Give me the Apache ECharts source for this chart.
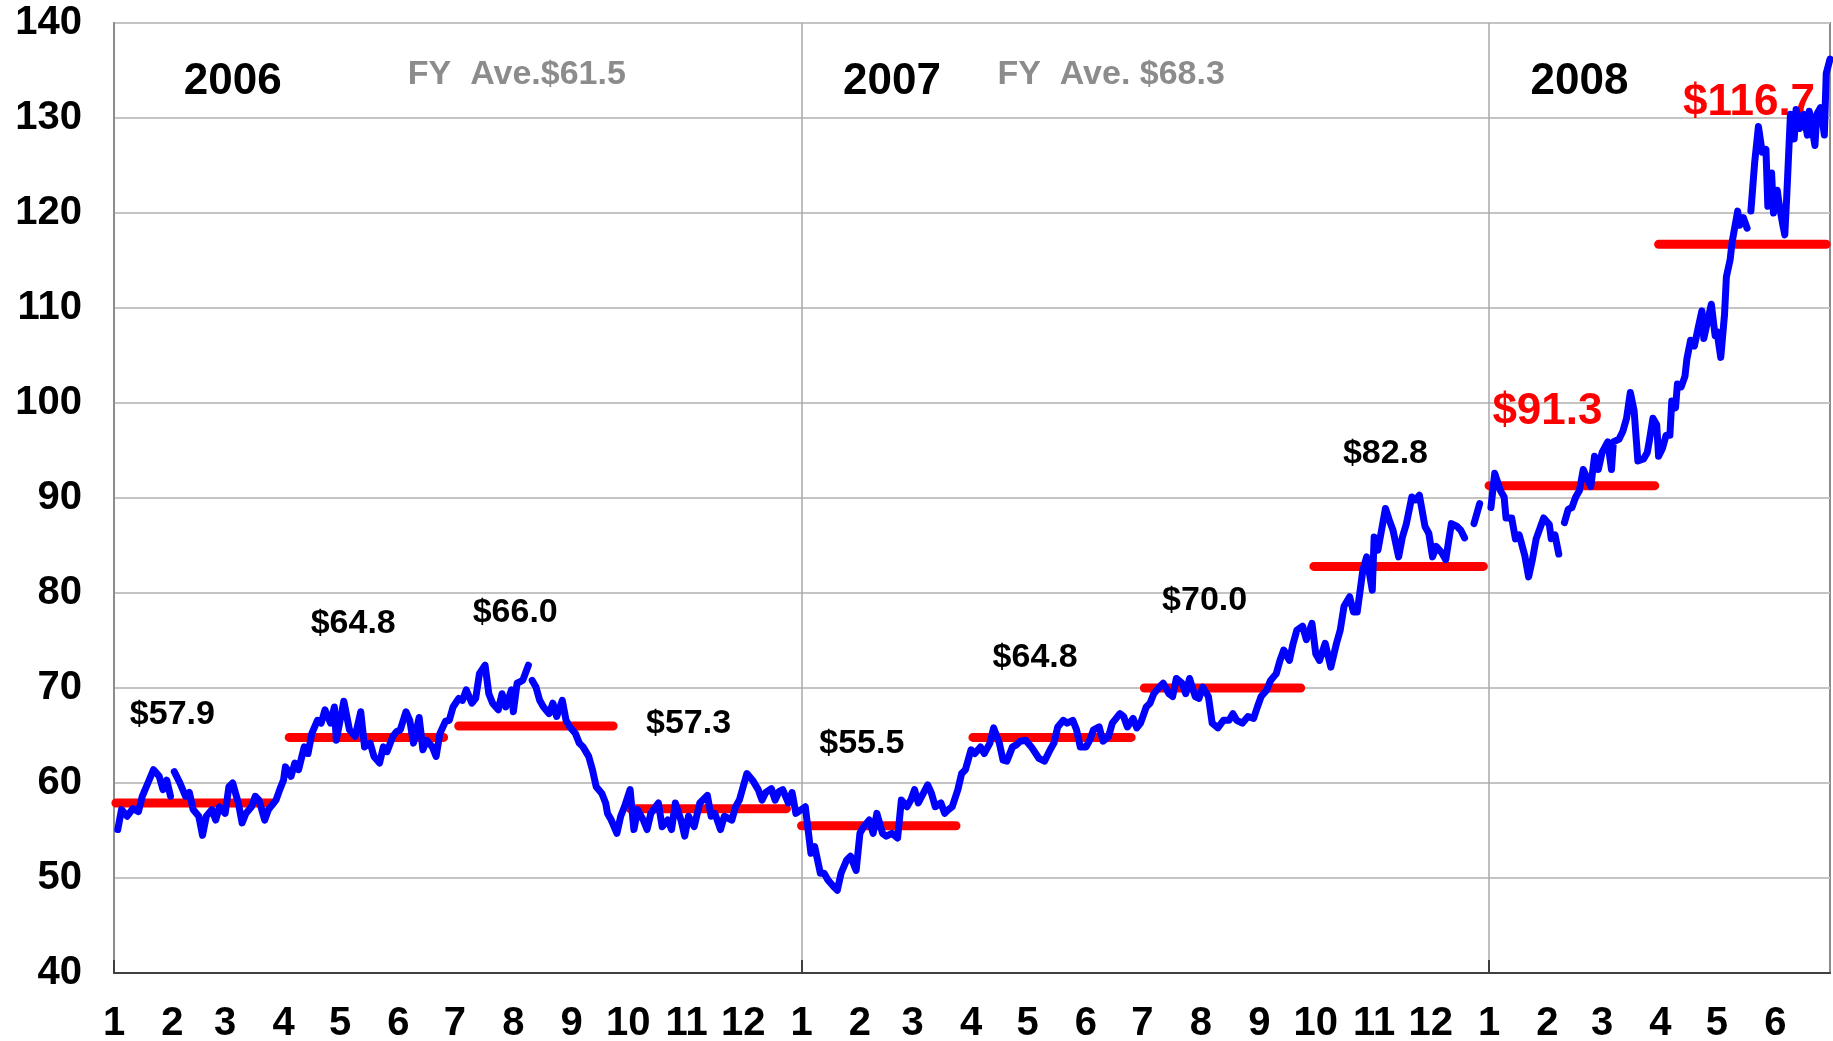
<!DOCTYPE html>
<html>
<head>
<meta charset="utf-8">
<title>Crude oil price 2006-2008</title>
<script src="https://cdn.jsdelivr.net/npm/echarts@6/dist/echarts.min.js"></script>
<style>
  html, body { margin: 0; padding: 0; background: #fff; }
  #chart { width: 1833px; height: 1041px; }
</style>
</head>
<body>
<div id="chart"></div>
<script>
// daily price ($/bbl), null = gap in the line
const prices2006 = [
  ['2006-01-03', 55.1], ['2006-01-05', 57.2], ['2006-01-08', 56.5], ['2006-01-11', 57.3],
  ['2006-01-14', 57.0], ['2006-01-16', 58.6], ['2006-01-19', 60.0], ['2006-01-22', 61.4],
  ['2006-01-25', 60.7], ['2006-01-27', 59.3], ['2006-01-29', 60.3], ['2006-01-31', 58.6],
  ['2006-02-01', null], ['2006-02-02', 61.2], ['2006-02-05', 60.0], ['2006-02-08', 58.6],
  ['2006-02-10', 59.0], ['2006-02-12', 57.2], ['2006-02-15', 56.5], ['2006-02-17', 54.5],
  ['2006-02-19', 56.5], ['2006-02-22', 57.2], ['2006-02-24', 56.1], ['2006-02-26', 57.5],
  ['2006-03-01', 56.8], ['2006-03-03', 59.6], ['2006-03-05', 60.0], ['2006-03-08', 57.9],
  ['2006-03-10', 55.8], ['2006-03-12', 56.8], ['2006-03-15', 57.5], ['2006-03-17', 58.6],
  ['2006-03-19', 58.2], ['2006-03-22', 56.1], ['2006-03-24', 57.2], ['2006-03-28', 58.2],
  ['2006-03-30', 59.3], ['2006-04-01', 60.3], ['2006-04-02', 61.7], ['2006-04-05', 60.7],
  ['2006-04-07', 62.1], ['2006-04-09', 61.4], ['2006-04-12', 63.8], ['2006-04-13', null],
  ['2006-04-14', 63.1], ['2006-04-16', 65.2], ['2006-04-19', 66.6], ['2006-04-21', 66.3],
  ['2006-04-23', 67.7], ['2006-04-26', 66.3], ['2006-04-28', 68.0], ['2006-04-29', 64.5],
  ['2006-05-03', 68.6], ['2006-05-06', 65.6], ['2006-05-09', 64.9], ['2006-05-12', 67.5],
  ['2006-05-14', 63.8], ['2006-05-17', 64.2], ['2006-05-19', 62.8], ['2006-05-22', 62.1],
  ['2006-05-24', 63.8], ['2006-05-26', 63.3], ['2006-05-29', 64.9], ['2006-05-31', 65.4],
  ['2006-06-02', 65.6], ['2006-06-05', 67.5], ['2006-06-07', 66.6], ['2006-06-09', 64.2],
  ['2006-06-12', 66.9], ['2006-06-14', 63.5], ['2006-06-16', 64.5], ['2006-06-19', 63.8],
  ['2006-06-21', 62.8], ['2006-06-23', 65.2], ['2006-06-26', 66.5], ['2006-06-28', 66.6],
  ['2006-06-30', 68.0], ['2006-07-03', 68.9], ['2006-07-05', 68.7], ['2006-07-07', 69.8],
  ['2006-07-10', 68.4], ['2006-07-12', 68.9], ['2006-07-14', 71.5], ['2006-07-17', 72.4],
  ['2006-07-19', 69.4], ['2006-07-21', 68.4], ['2006-07-24', 67.7], ['2006-07-26', 69.4],
  ['2006-07-28', 68.0], ['2006-07-31', 69.8], ['2006-08-01', 67.5], ['2006-08-03', 70.5],
  ['2006-08-06', 70.8], ['2006-08-09', 72.4], ['2006-08-10', null], ['2006-08-11', 70.8],
  ['2006-08-13', 70.1], ['2006-08-15', 68.7], ['2006-08-17', 68.0], ['2006-08-20', 67.3],
  ['2006-08-22', 68.4], ['2006-08-24', 67.0], ['2006-08-27', 68.7], ['2006-08-29', 66.6],
  ['2006-08-31', 65.9], ['2006-09-03', 65.2], ['2006-09-05', 64.2], ['2006-09-07', 63.8],
  ['2006-09-10', 62.8], ['2006-09-12', 61.4], ['2006-09-14', 59.6], ['2006-09-17', 58.9],
  ['2006-09-19', 57.9], ['2006-09-20', 56.8], ['2006-09-22', 56.1], ['2006-09-25', 54.7],
  ['2006-09-27', 56.5], ['2006-09-29', 57.5], ['2006-10-02', 59.3], ['2006-10-04', 55.1],
  ['2006-10-06', 57.2], ['2006-10-09', 56.1], ['2006-10-11', 55.1], ['2006-10-13', 56.8],
  ['2006-10-17', 57.9], ['2006-10-19', 55.4], ['2006-10-22', 56.1], ['2006-10-24', 55.1],
  ['2006-10-26', 57.9], ['2006-10-29', 56.1], ['2006-10-31', 54.4], ['2006-11-02', 56.5],
  ['2006-11-05', 55.4], ['2006-11-08', 57.9], ['2006-11-12', 58.7], ['2006-11-14', 56.5],
  ['2006-11-16', 56.8], ['2006-11-19', 55.1], ['2006-11-21', 56.5], ['2006-11-25', 56.1],
  ['2006-11-27', 57.5], ['2006-11-29', 58.2], ['2006-12-03', 61.0], ['2006-12-06', 60.3],
  ['2006-12-09', 59.3], ['2006-12-11', 58.2], ['2006-12-13', 59.0], ['2006-12-16', 59.4],
  ['2006-12-18', 58.2], ['2006-12-20', 59.1], ['2006-12-22', 59.3], ['2006-12-25', 57.9],
  ['2006-12-27', 59.0], ['2006-12-29', 56.8]
]

const prices2007 = [
  ['2007-01-03', 57.5], ['2007-01-06', 52.6], ['2007-01-08', 53.3], ['2007-01-11', 50.5],
  ['2007-01-13', 50.5], ['2007-01-15', 49.8], ['2007-01-18', 49.1], ['2007-01-20', 48.7],
  ['2007-01-22', 50.5], ['2007-01-25', 51.9], ['2007-01-27', 52.3], ['2007-01-30', 50.8],
  ['2007-02-01', 54.7], ['2007-02-03', 55.4], ['2007-02-06', 56.1], ['2007-02-08', 54.7],
  ['2007-02-10', 56.8], ['2007-02-13', 54.7], ['2007-02-15', 54.4], ['2007-02-18', 54.7],
  ['2007-02-21', 54.2], ['2007-02-23', 58.2], ['2007-02-26', 57.5], ['2007-02-28', 58.2],
  ['2007-03-02', 59.3], ['2007-03-04', 57.9], ['2007-03-09', 59.8], ['2007-03-11', 58.9],
  ['2007-03-13', 57.5], ['2007-03-16', 57.9], ['2007-03-18', 56.8], ['2007-03-20', 57.2],
  ['2007-03-22', 57.5], ['2007-03-25', 59.3], ['2007-03-27', 61.0], ['2007-03-29', 61.4],
  ['2007-04-01', 63.5], ['2007-04-03', 63.1], ['2007-04-06', 63.8], ['2007-04-08', 63.1],
  ['2007-04-11', 64.2], ['2007-04-13', 65.8], ['2007-04-16', 64.2], ['2007-04-18', 62.4],
  ['2007-04-20', 62.3], ['2007-04-23', 63.8], ['2007-04-25', 64.0], ['2007-04-27', 64.4],
  ['2007-04-30', 64.5], ['2007-05-03', 63.8], ['2007-05-07', 62.6], ['2007-05-10', 62.3],
  ['2007-05-13', 63.5], ['2007-05-15', 64.2], ['2007-05-17', 65.9], ['2007-05-20', 66.6],
  ['2007-05-22', 66.3], ['2007-05-25', 66.6], ['2007-05-27', 65.6], ['2007-05-29', 63.8],
  ['2007-06-01', 63.8], ['2007-06-03', 64.5], ['2007-06-05', 65.6], ['2007-06-08', 65.9],
  ['2007-06-10', 64.4], ['2007-06-13', 64.9], ['2007-06-15', 66.3], ['2007-06-19', 67.3],
  ['2007-06-21', 67.0], ['2007-06-23', 65.9], ['2007-06-26', 66.8], ['2007-06-28', 65.8],
  ['2007-06-30', 66.3], ['2007-07-03', 68.0], ['2007-07-05', 68.4], ['2007-07-07', 69.4],
  ['2007-07-10', 70.1], ['2007-07-12', 70.5], ['2007-07-15', 69.4], ['2007-07-17', 69.1],
  ['2007-07-19', 71.0], ['2007-07-22', 70.5], ['2007-07-24', 69.4], ['2007-07-26', 71.0],
  ['2007-07-29', 69.1], ['2007-07-31', 68.9], ['2007-08-02', 70.1], ['2007-08-05', 69.1],
  ['2007-08-07', 66.3], ['2007-08-10', 65.8], ['2007-08-13', 66.6], ['2007-08-16', 66.6],
  ['2007-08-18', 67.3], ['2007-08-20', 66.6], ['2007-08-23', 66.3], ['2007-08-26', 67.0],
  ['2007-08-29', 66.8], ['2007-08-31', 68.0], ['2007-09-02', 69.1], ['2007-09-05', 69.8],
  ['2007-09-07', 70.8], ['2007-09-10', 71.5], ['2007-09-12', 72.9], ['2007-09-14', 74.0],
  ['2007-09-17', 72.9], ['2007-09-19', 74.7], ['2007-09-21', 76.1], ['2007-09-24', 76.5],
  ['2007-09-26', 75.1], ['2007-09-29', 76.8], ['2007-10-01', 73.6], ['2007-10-03', 72.9],
  ['2007-10-06', 74.7], ['2007-10-09', 72.2], ['2007-10-12', 74.7], ['2007-10-14', 76.1],
  ['2007-10-16', 78.6], ['2007-10-19', 79.6], ['2007-10-21', 78.0], ['2007-10-23', 78.0],
  ['2007-10-26', 82.4], ['2007-10-28', 83.8], ['2007-10-31', 80.3], ['2007-11-01', 85.9],
  ['2007-11-03', 84.5], ['2007-11-07', 88.9], ['2007-11-09', 87.7], ['2007-11-11', 86.6],
  ['2007-11-14', 83.8], ['2007-11-16', 85.9], ['2007-11-18', 87.2], ['2007-11-21', 90.1],
  ['2007-11-23', 89.8], ['2007-11-25', 90.3], ['2007-11-28', 87.0], ['2007-11-30', 86.3],
  ['2007-12-02', 83.8], ['2007-12-04', 84.9], ['2007-12-07', 84.2], ['2007-12-09', 83.5],
  ['2007-12-12', 87.3], ['2007-12-15', 87.0], ['2007-12-17', 86.6], ['2007-12-19', 85.8],
  ['2007-12-21', null], ['2007-12-24', 87.3], ['2007-12-27', 89.4], ['2007-12-31', null]
]

const prices2008 = [
  ['2008-01-02', 89.0], ['2008-01-04', 92.6], ['2008-01-07', 90.8], ['2008-01-09', 90.1],
  ['2008-01-10', 87.9], ['2008-01-13', 87.9], ['2008-01-15', 85.7], ['2008-01-17', 86.1],
  ['2008-01-18', 85.4], ['2008-01-20', 83.9], ['2008-01-22', 81.7], ['2008-01-24', 83.5],
  ['2008-01-26', 85.7], ['2008-01-27', 85.7], ['2008-01-30', 87.9], ['2008-02-02', 87.2],
  ['2008-02-03', 85.7], ['2008-02-05', 86.1], ['2008-02-07', 84.1], ['2008-02-09', null],
  ['2008-02-10', 87.4], ['2008-02-12', 88.8], ['2008-02-14', 89.0], ['2008-02-16', 90.1],
  ['2008-02-18', 90.8], ['2008-02-20', 93.0], ['2008-02-22', 92.1], ['2008-02-24', 91.2],
  ['2008-02-26', 94.4], ['2008-02-28', 93.0], ['2008-03-01', 94.8], ['2008-03-04', 95.9],
  ['2008-03-06', 93.0], ['2008-03-07', 95.9], ['2008-03-10', 96.2], ['2008-03-12', 97.0],
  ['2008-03-14', 98.4], ['2008-03-16', 101.1], ['2008-03-18', 99.2], ['2008-03-20', 93.9],
  ['2008-03-23', 94.1], ['2008-03-25', 94.8], ['2008-03-26', 95.9], ['2008-03-28', 98.4],
  ['2008-03-30', 97.7], ['2008-03-31', 94.4], ['2008-04-02', 95.2], ['2008-04-04', 96.6],
  ['2008-04-06', 96.6], ['2008-04-07', 100.2], ['2008-04-09', 99.5], ['2008-04-10', 102.0],
  ['2008-04-12', 101.7], ['2008-04-14', 102.8], ['2008-04-15', 104.6], ['2008-04-17', 106.6],
  ['2008-04-19', 106.0], ['2008-04-21', 107.9], ['2008-04-23', 109.7], ['2008-04-24', 106.8],
  ['2008-04-26', 108.6], ['2008-04-28', 110.4], ['2008-04-30', 107.1], ['2008-05-01', 107.5],
  ['2008-05-03', 104.8], ['2008-05-05', 109.3], ['2008-05-06', 113.3], ['2008-05-08', 115.1],
  ['2008-05-09', 116.9], ['2008-05-12', 120.2], ['2008-05-13', 118.7], ['2008-05-15', 119.5],
  ['2008-05-17', 118.4], ['2008-05-18', null], ['2008-05-19', 120.2], ['2008-05-21', 125.3],
  ['2008-05-23', 129.1], ['2008-05-25', 126.4], ['2008-05-27', 126.7], ['2008-05-28', 120.7],
  ['2008-05-30', 124.2], ['2008-05-31', 120.0], ['2008-06-02', 122.4], ['2008-06-03', 120.9],
  ['2008-06-05', 118.7], ['2008-06-06', 117.7], ['2008-06-07', 121.6], ['2008-06-09', 130.4],
  ['2008-06-11', 127.8], ['2008-06-12', 130.9], ['2008-06-14', 128.9], ['2008-06-16', 130.4],
  ['2008-06-18', 128.2], ['2008-06-19', 130.7], ['2008-06-22', 127.1], ['2008-06-23', 130.4],
  ['2008-06-25', 131.1], ['2008-06-27', 128.2], ['2008-06-28', 134.7], ['2008-06-30', 136.2]
]

// quarterly averages
const quarterStart = ['2006-01-02', '2006-04-04', '2006-07-03', '2006-10-02', '2007-01-01',
  '2007-04-02', '2007-07-02', '2007-09-30', '2008-01-01', '2008-03-31']
const quarterEnd = ['2006-03-26', '2006-06-25', '2006-09-23', '2006-12-24', '2007-03-24',
  '2007-06-25', '2007-09-23', '2007-12-29', '2008-03-29', '2008-06-28']
const quarterAvg = [57.9, 64.8, 66.0, 57.3, 55.5, 64.8, 70.0, 82.8, 91.3, 116.7]

const yearNames = ['2006', '2007', '2008']
const fyLabels = ['FY  Ave.$61.5', 'FY  Ave. $68.3']

// y axis ticks
const yMin = 40
const yMax = 140
const yStep = 10

// where the text notes sit (in data coords)
const quarterLabelAt = [
  ['2006-02-01', 67.2], ['2006-05-08', 76.8], ['2006-08-02', 77.9], ['2006-11-02', 66.2],
  ['2007-02-02', 64.1], ['2007-05-05', 73.2], ['2007-08-03', 79.2], ['2007-11-07', 94.7],
  ['2008-02-01', 99.1], ['2008-05-18', 131.6]
]
const yearLabelAt = [['2006-03-05', 133.8], ['2007-02-18', 133.8], ['2008-02-18', 133.8]]
const fyLabelAt = [['2006-06-06', 134.6], ['2007-04-15', 134.6]]

const FONT = '"Liberation Sans", Arial, Helvetica, sans-serif'

// every calendar day is a category
const days = []
for (let t = Date.UTC(2006, 0, 1); t <= Date.UTC(2008, 5, 30); t += 86400000) {
  days.push(new Date(t).toISOString().slice(0, 10))
}

const priceData = prices2006.concat(prices2007, prices2008)

const avgData = []
quarterAvg.forEach((v, i) => {
  avgData.push([quarterStart[i], v], [quarterEnd[i], v])
  if (i < quarterAvg.length - 1) avgData.push([quarterEnd[i], null])
})

const noteData = []
quarterAvg.forEach((v, i) => {
  const red = i >= 8
  noteData.push({
    value: quarterLabelAt[i],
    label: {
      formatter: '$' + v.toFixed(1),
      fontSize: red ? 44 : 34,
      color: red ? '#ff0000' : '#000000'
    }
  })
})
yearNames.forEach((y, i) => {
  noteData.push({ value: yearLabelAt[i], label: { formatter: y, fontSize: 44, color: '#000000' } })
})
fyLabels.forEach((t, i) => {
  noteData.push({ value: fyLabelAt[i], label: { formatter: t, fontSize: 34, color: '#8c8c8c', align: 'left' } })
})

const isYearStart = (idx, val) => val.slice(5) === '01-01'

const chart = echarts.init(document.getElementById('chart'))

const option = {
  animation: false,
  grid: {
    left: 114,
    right: 3,
    top: 23,
    bottom: 68,
    show: true,
    borderColor: '#8c8c8c',
    borderWidth: 2,
    outerBoundsMode: 'none'
  },
  xAxis: {
    type: 'category',
    data: days,
    boundaryGap: false,
    axisLine: { show: true, lineStyle: { color: '#404040', width: 2 } },
    axisTick: {
      show: true,
      inside: true,
      length: 13,
      interval: isYearStart,
      lineStyle: { color: '#404040', width: 2 }
    },
    axisLabel: {
      interval: (idx, val) => val.slice(8) === '01',
      formatter: val => String(+val.slice(5, 7)),
      fontFamily: FONT,
      fontWeight: 'bold',
      fontSize: 40,
      color: '#000',
      margin: 31
    },
    splitLine: {
      show: true,
      interval: isYearStart,
      lineStyle: { color: '#a8a8a8', width: 1.5 }
    }
  },
  yAxis: {
    type: 'value',
    min: yMin,
    max: yMax,
    interval: yStep,
    axisLine: { show: true, lineStyle: { color: '#8c8c8c', width: 2 } },
    axisTick: { show: false },
    axisLabel: {
      fontFamily: FONT,
      fontWeight: 'bold',
      fontSize: 40,
      color: '#000',
      margin: 32
    },
    splitLine: { show: true, lineStyle: { color: '#c4c4c4', width: 2 } }
  },
  series: [
    {
      // text notes
      type: 'scatter',
      data: noteData,
      symbolSize: 1,
      itemStyle: { color: '#ffffff', opacity: 1 },
      silent: true,
      z: 1,
      label: {
        show: true,
        position: 'inside',
        fontFamily: FONT,
        fontWeight: 'bold',
        align: 'center',
        verticalAlign: 'middle',
        opacity: 1,
        textBorderWidth: 0,
        textShadowBlur: 0
      }
    },
    {
      name: 'quarter average',
      type: 'line',
      data: avgData,
      symbol: 'none',
      connectNulls: false,
      lineStyle: { color: '#ff0000', width: 9, cap: 'round' },
      z: 3
    },
    {
      name: 'price',
      type: 'line',
      data: priceData,
      symbol: 'none',
      connectNulls: false,
      lineStyle: { color: '#0000ff', width: 7, cap: 'round', join: 'round' },
      z: 4
    }
  ]
}

chart.setOption(option)
</script>
</body>
</html>
